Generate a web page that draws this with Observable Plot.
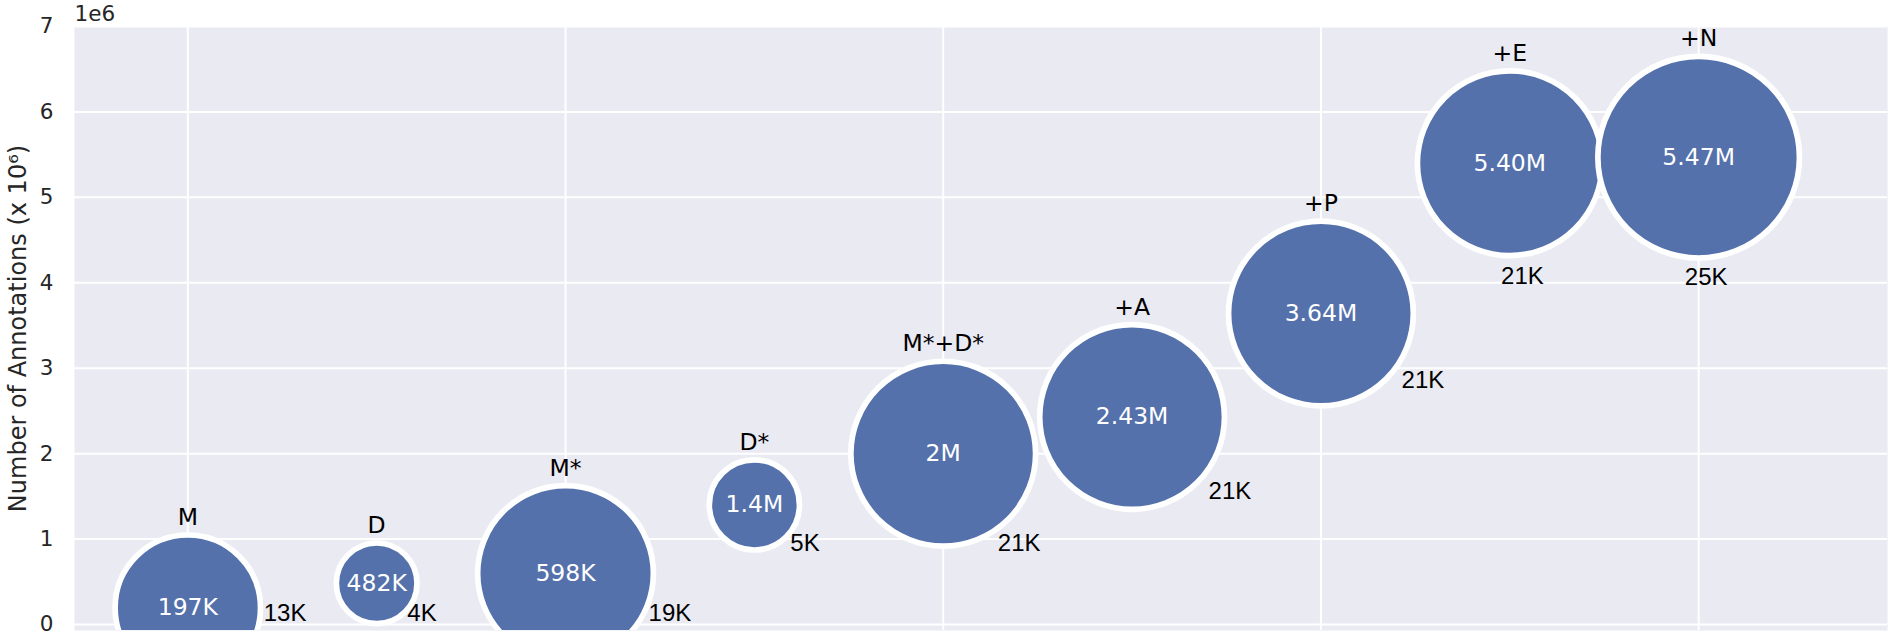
<!DOCTYPE html>
<html>
<head>
<meta charset="utf-8">
<script src="https://cdn.jsdelivr.net/npm/d3@7"></script>
<script src="https://cdn.jsdelivr.net/npm/@observablehq/plot@0.6"></script>
<style>
  html, body { margin: 0; padding: 0; background: #ffffff; }
  svg { display: block; }
</style>
</head>
<body>
<div id="chart"></div>
<script>
// ---- data ----
const categories  = ["M", "D", "M*", "D*", "M*+D*", "+A", "+P", "+E", "+N"];
const annotations = [197e3, 482e3, 598e3, 1.4e6, 2.0e6, 2.43e6, 3.64e6, 5.40e6, 5.47e6];
const valueLabels = ["197K", "482K", "598K", "1.4M", "2M", "2.43M", "3.64M", "5.40M", "5.47M"];
const sizesK      = [13, 4, 19, 5, 21, 21, 21, 21, 25];
// annotation anchor points (data units) of the size labels
const sizeLabelX  = [0.515, 1.24, 2.553, 3.268, 4.402, 5.518, 6.54, 7.067, 8.04];
const sizeLabelY  = [0.135e6, 0.135e6, 0.135e6, 0.955e6, 0.955e6, 1.565e6, 2.853e6, 4.077e6, 4.07e6];
const yTicks      = [0, 1, 2, 3, 4, 5, 6, 7].map(d => d * 1e6);
const xGridTicks  = [0, 2, 4, 6, 8];
const yLabel      = "Number of Annotations (x 10\u2076)";
const offsetText  = "1e6";

// ---- table built from the arrays ----
const data = categories.map((c, i) => ({
  i, cat: c, ann: annotations[i], val: valueLabels[i], size: sizesK[i],
  sizeText: sizesK[i] + "K", lx: sizeLabelX[i], ly: sizeLabelY[i]
}));

const R_MAX = 100.8;
const rOf = s => R_MAX * Math.sqrt(s / 25);
const BLUE = "#5471AB";
const DARK = "#262626";

const catMarks = data.map(d => Plot.text([d], {
  x: "i", y: "ann", text: "cat", dy: -(rOf(d.size) + 10), lineAnchor: "bottom",
  fontFamily: "DejaVu Sans", fontSize: 23.5, fill: "#000"
}));

const chart = Plot.plot({
  width: 1891,
  height: 636,
  marginLeft: 74,
  marginRight: 4,
  marginTop: 26,
  marginBottom: 6,
  style: { fontFamily: "DejaVu Sans", fontSize: "21.5px", color: DARK, background: "#ffffff" },
  x: { domain: [-0.6, 9.0], axis: null },
  y: { domain: [-0.07e6, 7e6] },
  r: { type: "sqrt", domain: [0, 25], range: [0, R_MAX] },
  marks: [
    Plot.frame({ fill: "#EAEAF2", stroke: null }),
    Plot.gridY(yTicks, { stroke: "#ffffff", strokeOpacity: 1, strokeWidth: 2 }),
    Plot.gridX(xGridTicks, { stroke: "#ffffff", strokeOpacity: 1, strokeWidth: 2 }),
    Plot.axisY(yTicks, {
      tickSize: 0, tickPadding: 21, label: null,
      tickFormat: d => String(d / 1e6),
      fontSize: 21.5, fill: DARK, fontFamily: "DejaVu Sans"
    }),
    Plot.text([offsetText], {
      frameAnchor: "top-left", textAnchor: "start", lineAnchor: "bottom", dy: -6,
      fontSize: 21.5, fill: DARK, fontFamily: "DejaVu Sans"
    }),
    Plot.text([yLabel], {
      frameAnchor: "left", rotate: -90, dx: -56, textAnchor: "middle", lineAnchor: "middle",
      fontSize: 24, fill: DARK, fontFamily: "DejaVu Sans"
    }),
    Plot.dot(data, {
      x: "i", y: "ann", r: "size", fill: BLUE, stroke: "#ffffff", strokeWidth: 5.7,
      clip: true, sort: null
    }),
    Plot.text(data, {
      x: "i", y: "ann", text: "val", lineAnchor: "middle",
      fontFamily: "DejaVu Sans", fontSize: 23.5, fill: "#ffffff"
    }),
    ...catMarks,
    Plot.text(data, {
      x: "lx", y: "ly", text: "sizeText", lineAnchor: "middle",
      fontFamily: "Liberation Sans", fontSize: 24, fill: "#000"
    })
  ]
});

document.getElementById("chart").appendChild(chart);
</script>
</body>
</html>
